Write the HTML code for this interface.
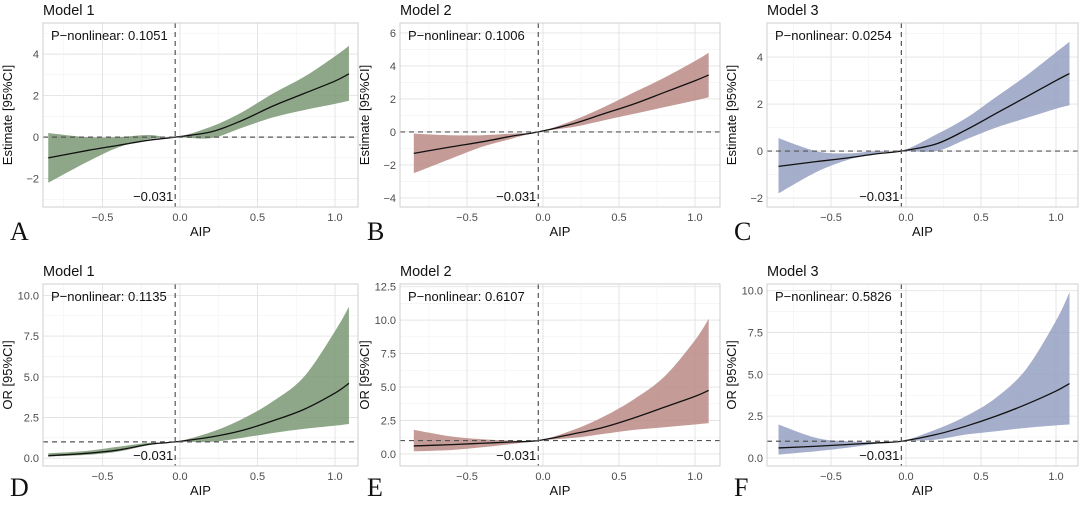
<!DOCTYPE html>
<html><head><meta charset="utf-8"><style>
body{margin:0;background:#fff;font-family:"Liberation Sans",sans-serif}
svg text{font-family:"Liberation Sans",sans-serif}
</style></head><body>
<svg id="fig" width="1080" height="500" viewBox="0 0 1080 500" xmlns="http://www.w3.org/2000/svg"></svg>
<script>
const xs = [-0.85,-0.6,-0.4,-0.2,-0.031,0.2,0.4,0.6,0.8,1.0,1.09];
const estA=[-1.0,-0.65,-0.4,-0.15,0,0.25,0.8,1.5,2.1,2.7,3.05];
const loA=[-2.2,-1.2,-0.5,-0.1,0,-0.05,0.45,0.95,1.3,1.6,1.75];
const hiA=[0.2,0.0,0.0,0.1,0,0.5,1.2,2.1,2.9,3.9,4.4];
const estB=[-1.3,-0.9,-0.6,-0.25,0,0.5,1.1,1.7,2.4,3.1,3.45];
const loB=[-2.5,-1.6,-0.9,-0.4,0,0.3,0.7,1.1,1.5,1.9,2.1];
const hiB=[-0.1,-0.2,-0.2,-0.1,0,0.7,1.5,2.4,3.3,4.3,4.8];
const estC=[-0.65,-0.45,-0.3,-0.12,0,0.3,0.9,1.6,2.3,3.0,3.3];
const loC=[-1.8,-0.9,-0.4,-0.1,0,0.0,0.5,1.0,1.4,1.8,1.95];
const hiC=[0.55,0.0,-0.1,0.0,0,0.7,1.4,2.3,3.2,4.2,4.65];
const estD=[0.15,0.3,0.5,0.85,1.0,1.3,1.7,2.3,3.0,4.0,4.6];
const loD=[0.1,0.2,0.4,0.8,1.0,1.0,1.25,1.55,1.8,2.0,2.1];
const hiD=[0.3,0.45,0.7,0.95,1.0,1.6,2.4,3.5,5.0,7.8,9.3];
const estE=[0.6,0.7,0.8,0.9,1.0,1.5,2.0,2.7,3.5,4.3,4.75];
const loE=[0.2,0.3,0.5,0.75,1.0,1.2,1.5,1.8,2.0,2.2,2.3];
const hiE=[1.8,1.3,1.1,1.0,1.0,1.8,2.8,4.1,5.8,8.5,10.1];
const estF=[0.6,0.7,0.8,0.9,1.0,1.4,1.9,2.5,3.2,4.0,4.45];
const loF=[0.2,0.4,0.6,0.85,1.0,1.1,1.4,1.6,1.8,1.95,2.0];
const hiF=[2.0,1.2,1.0,0.95,1.0,1.7,2.5,3.6,5.3,8.2,9.9];
const xTicks=[-0.5,0,0.5,1.0];
const xTickLabels=["\u22120.5","0.0","0.5","1.0"];
const yTicksTop=[-2,0,2,4];
const yTicksB=[-4,-2,0,2,4,6];
const yTicksOR=[0,2.5,5,7.5,10];
const yTicksE=[0,2.5,5,7.5,10,12.5];
const pValues=["0.1051","0.1006","0.0254","0.1135","0.6107","0.5826"];
const cutoff=-0.031;

const NS="http://www.w3.org/2000/svg";
const svg=document.getElementById('fig');
function mk(tag,attrs,parent){const e=document.createElementNS(NS,tag);for(const k in attrs)e.setAttribute(k,attrs[k]);(parent||svg).appendChild(e);return e;}
function fmtY(v,dec){let s=dec?v.toFixed(1):String(v);return s.replace('-','\u2212');}
function spline(pts){let d='M'+pts[0][0]+','+pts[0][1];for(let i=0;i<pts.length-1;i++){const p0=pts[Math.max(0,i-1)],p1=pts[i],p2=pts[i+1],p3=pts[Math.min(pts.length-1,i+2)];const c1=[p1[0]+(p2[0]-p0[0])/6,p1[1]+(p2[1]-p0[1])/6],c2=[p2[0]-(p3[0]-p1[0])/6,p2[1]-(p3[1]-p1[1])/6];d+=' C'+c1[0]+','+c1[1]+' '+c2[0]+','+c2[1]+' '+p2[0]+','+p2[1];}return d;}

const cols=[{l:43,r:358,x0:180,k:155},{l:400,r:720,x0:543,k:152},{l:767,r:1078,x0:906,k:150}];
const rows=[{t:23,b:207,lt:240},{t:284,b:466,lt:496}];
const panels=[
 {c:0,r:0,title:"Model 1",letter:"A",yt:"Estimate [95%CI]",ymin:-3.37,ymax:5.5,ticks:yTicksTop,dec:false,ref:0,est:estA,lo:loA,hi:hiA,fill:"#7a9873"},
 {c:1,r:0,title:"Model 2",letter:"B",yt:"Estimate [95%CI]",ymin:-4.55,ymax:6.6,ticks:yTicksB,dec:false,ref:0,est:estB,lo:loB,hi:hiB,fill:"#bb8985"},
 {c:2,r:0,title:"Model 3",letter:"C",yt:"Estimate [95%CI]",ymin:-2.38,ymax:5.45,ticks:yTicksTop,dec:false,ref:0,est:estC,lo:loC,hi:hiC,fill:"#95a0c2"},
 {c:0,r:1,title:"Model 1",letter:"D",yt:"OR [95%CI]",ymin:-0.48,ymax:10.7,ticks:yTicksOR,dec:true,ref:1,est:estD,lo:loD,hi:hiD,fill:"#7a9873"},
 {c:1,r:1,title:"Model 2",letter:"E",yt:"OR [95%CI]",ymin:-0.9,ymax:12.7,ticks:yTicksE,dec:true,ref:1,est:estE,lo:loE,hi:hiE,fill:"#bb8985"},
 {c:2,r:1,title:"Model 3",letter:"F",yt:"OR [95%CI]",ymin:-0.48,ymax:10.4,ticks:yTicksOR,dec:true,ref:1,est:estF,lo:loF,hi:hiF,fill:"#95a0c2"}
];
panels.forEach((p,i)=>{
 const C=cols[p.c],R=rows[p.r];
 const X=v=>C.x0+v*C.k;
 const Y=v=>R.b-(v-p.ymin)/(p.ymax-p.ymin)*(R.b-R.t);
 const g=mk('g',{});
 
 
 const step=(p.ticks[1]-p.ticks[0]);
 for(let v=p.ticks[0]-step/2;v<=p.ymax;v+=step/2){if(v<p.ymin)continue;const minor=Math.abs((v-p.ticks[0])/step%1)>0.01;mk('line',{x1:C.l,x2:C.r,y1:Y(v),y2:Y(v),stroke:minor?'#f2f2f2':'#e3e3e3','stroke-width':minor?0.6:0.9},g);}
 for(let v=-0.75;v<=1.3;v+=0.25){const x=X(v);if(x<C.l||x>C.r)continue;const minor=Math.abs(v*2-Math.round(v*2))>0.01;mk('line',{x1:x,x2:x,y1:R.t,y2:R.b,stroke:minor?'#f2f2f2':'#e3e3e3','stroke-width':minor?0.6:0.9},g);}
 const up=xs.map((x,j)=>[X(x),Y(p.hi[j])]),dn=xs.map((x,j)=>[X(x),Y(p.lo[j])]).reverse();
 const sd=spline(dn);
 const band=mk('path',{d:spline(up)+' L'+dn[0][0]+','+dn[0][1]+sd.slice(sd.indexOf(' C'))+'Z',fill:p.fill,'fill-opacity':0.85},g);
 
 
 const ln=mk('path',{d:spline(xs.map((x,j)=>[X(x),Y(p.est[j])])),fill:'none',stroke:'#111','stroke-width':1.3},g);
 
 
 mk('line',{x1:C.l,x2:C.r,y1:Y(p.ref),y2:Y(p.ref),stroke:'#555','stroke-width':1.2,'stroke-dasharray':'5,4'},g);
 mk('line',{x1:X(cutoff),x2:X(cutoff),y1:R.t,y2:R.b,stroke:'#555','stroke-width':1.2,'stroke-dasharray':'5,4'},g);
 mk('rect',{x:C.l,y:R.t,width:C.r-C.l,height:R.b-R.t,fill:'none',stroke:'#cfcfcf','stroke-width':1},g);
 p.ticks.forEach(v=>{const t=mk('text',{x:C.l-4,y:Y(v)+4,'text-anchor':'end','font-size':11,fill:'#4d4d4d'},g);t.textContent=fmtY(v,p.dec);});
 xTicks.forEach((v,j)=>{const t=mk('text',{x:X(v),y:R.b+14,'text-anchor':'middle','font-size':11,fill:'#4d4d4d'},g);t.textContent=xTickLabels[j];});
 let t=mk('text',{x:C.l,y:R.t-8,'font-size':14.5,fill:'#111'},g);t.textContent=p.title;
 t=mk('text',{x:C.l+8,y:R.t+17,'font-size':13,fill:'#111'},g);t.textContent='P\u2212nonlinear: '+pValues[i];
 t=mk('text',{x:X(cutoff)-2,y:R.b-6,'text-anchor':'end','font-size':13,fill:'#111'},g);t.textContent='\u22120.031';
 t=mk('text',{x:(C.l+C.r)/2,y:R.b+29,'text-anchor':'middle','font-size':13,fill:'#111'},g);t.textContent='AIP';
 t=mk('text',{transform:'translate('+(C.l-31)+','+((R.t+R.b)/2)+') rotate(-90)','text-anchor':'middle','font-size':13,fill:'#111'},g);t.textContent=p.yt;
 t=mk('text',{x:C.l-33,y:R.lt,'font-size':26,fill:'#111'},g);t.setAttribute('style','font-family:"Liberation Serif",serif');t.textContent=p.letter;
});
</script>
</body></html>
